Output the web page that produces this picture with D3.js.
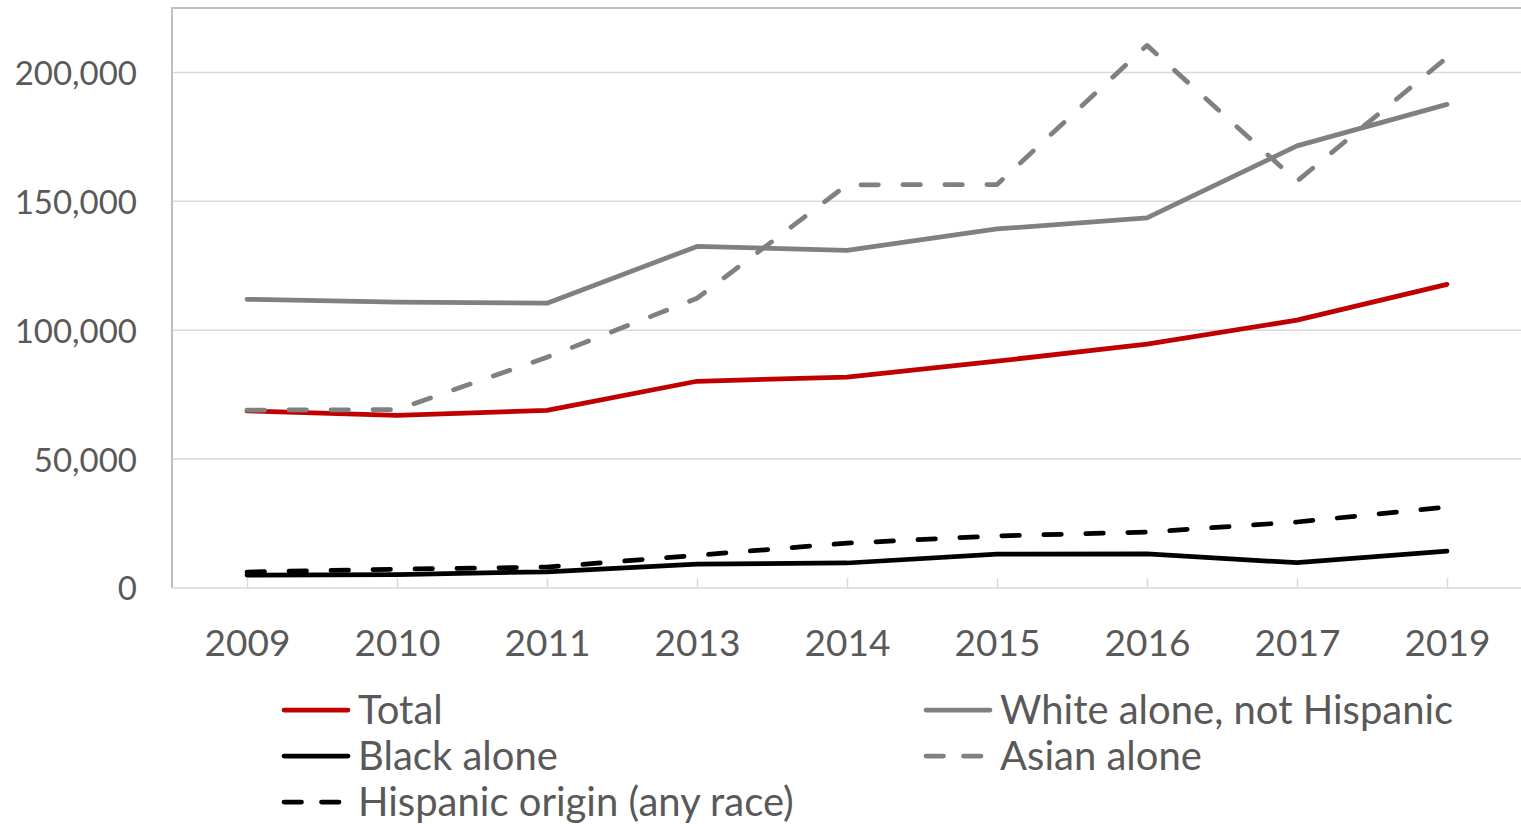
<!DOCTYPE html>
<html>
<head>
<meta charset="utf-8">
<script src="https://cdn.jsdelivr.net/npm/d3@7"></script>
<style>
  html, body { margin: 0; padding: 0; background: #fff; }
  svg { display: block; }
  text { font-family: Lato, "Noto Sans", sans-serif; fill: #595959; }
</style>
</head>
<body>
<svg id="chart" width="1521" height="824"></svg>
<script>
// Years shown on the category axis
const years = ["2009", "2010", "2011", "2013", "2014", "2015", "2016", "2017", "2019"];

// Series values by year
const total    = [68700, 67000, 68900, 80200, 81800, 88000, 94600, 103900, 117800];
const white    = [112000, 110900, 110500, 132500, 131000, 139300, 143600, 171500, 187600];
const black    = [5000, 5200, 6300, 9300, 9700, 13100, 13200, 9800, 14300];
const asian    = [69000, 69200, 89500, 112400, 156400, 156500, 210500, 157800, 205800];
const hispanic = [6200, 7300, 8100, 12700, 17400, 20200, 21700, 25600, 31400];

const yTicks = [0, 50000, 100000, 150000, 200000];

const seriesNames = ["Total", "White alone, not Hispanic", "Black alone", "Asian alone", "Hispanic origin (any race)"];

const series = [
  { name: seriesNames[0], values: total,    color: "#C00000", dashed: false },
  { name: seriesNames[1], values: white,    color: "#808080", dashed: false },
  { name: seriesNames[2], values: black,    color: "#000000", dashed: false },
  { name: seriesNames[3], values: asian,    color: "#808080", dashed: true },
  { name: seriesNames[4], values: hispanic, color: "#000000", dashed: true }
];

const svg = d3.select("#chart");

const plot = { left: 172, top: 8, right: 1522, bottom: 588 };

const x = d3.scalePoint().domain(years).range([plot.left, plot.right]).padding(0.5);
const y = d3.scaleLinear().domain([0, 225000]).range([plot.bottom, plot.top]);

// Horizontal gridlines
svg.append("g")
  .selectAll("line")
  .data(yTicks.filter(d => d > 0))
  .join("line")
  .attr("x1", plot.left).attr("x2", plot.right)
  .attr("y1", d => y(d)).attr("y2", d => y(d))
  .attr("stroke", "#d9d9d9").attr("stroke-width", 1.5);

// Plot frame (top and left edges)
svg.append("path")
  .attr("d", `M${plot.right},${plot.top} H${plot.left} V${plot.bottom}`)
  .attr("fill", "none").attr("stroke", "#bfbfbf").attr("stroke-width", 2);

// Category axis
const xAxis = svg.append("g")
  .attr("transform", `translate(0,${plot.bottom})`)
  .call(d3.axisBottom(x).tickSize(-10).tickPadding(0));
xAxis.select(".domain").remove();
xAxis.selectAll(".tick line").attr("stroke", "#d9d9d9").attr("stroke-width", 1.5);
xAxis.selectAll(".tick text")
  .attr("y", 68).attr("dy", null)
  .style("font-size", "37px").attr("fill", "#595959");
svg.append("line")
  .attr("x1", plot.left).attr("x2", plot.right)
  .attr("y1", plot.bottom).attr("y2", plot.bottom)
  .attr("stroke", "#d9d9d9").attr("stroke-width", 1.5);

// Value axis labels
const yAxis = svg.append("g")
  .attr("transform", `translate(${plot.left},0)`)
  .call(d3.axisLeft(y).tickValues(yTicks).tickSize(0).tickPadding(35)
    .tickFormat(d3.format(",")));
yAxis.select(".domain").remove();
yAxis.selectAll(".tick text")
  .attr("dy", "0.36em")
  .style("font-size", "33px").attr("fill", "#595959");

// Lines
const line = d3.line().x((d, i) => x(years[i])).y(d => y(d));

svg.append("g")
  .selectAll("path")
  .data(series)
  .join("path")
  .attr("d", d => line(d.values))
  .attr("fill", "none")
  .attr("stroke", d => d.color)
  .attr("stroke-width", 4.75)
  .attr("stroke-linejoin", "round")
  .attr("stroke-linecap", "round")
  .attr("stroke-dasharray", d => d.dashed ? "17.5,24.5" : null);

// Legend
const legendItems = [
  { s: series[0], x: 284, y: 710 },
  { s: series[1], x: 926, y: 710 },
  { s: series[2], x: 284, y: 756 },
  { s: series[3], x: 926, y: 756 },
  { s: series[4], x: 284, y: 802 }
];

const legend = svg.append("g")
  .selectAll("g")
  .data(legendItems)
  .join("g")
  .attr("transform", d => `translate(${d.x},${d.y})`);

legend.append("line")
  .attr("x1", 0).attr("x2", 64)
  .attr("y1", 0).attr("y2", 0)
  .attr("stroke", d => d.s.color)
  .attr("stroke-width", 4.75)
  .attr("stroke-linecap", "round")
  .attr("stroke-dasharray", d => d.s.dashed ? "17.5,20" : null);

legend.append("text")
  .attr("x", 74)
  .attr("y", 13.5)
  .style("font-size", "40px")
  .text(d => d.s.name);
</script>
</body>
</html>
